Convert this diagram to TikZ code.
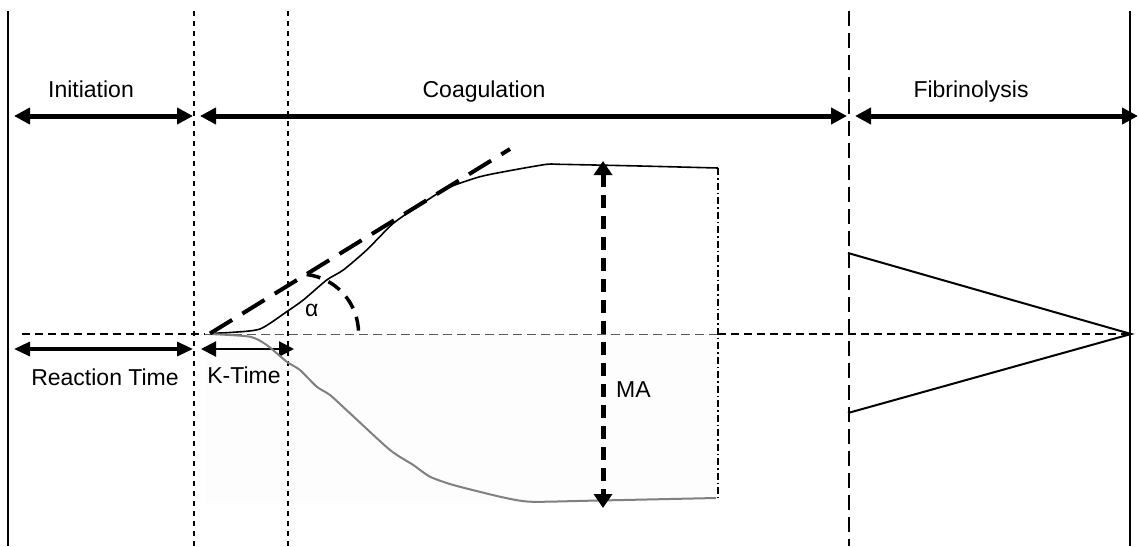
\documentclass[tikz,border=0pt]{standalone}
\usepackage{fontspec}
\setmainfont{Liberation Sans}
\usetikzlibrary{arrows.meta}
\begin{document}
\begin{tikzpicture}[x=1pt,y=-1pt,
  lbl/.style={font=\fontsize{23}{27}\selectfont, anchor=base, inner sep=0pt},
  bigtip/.style={{Triangle[length=16pt,width=16pt]}-{Triangle[length=16pt,width=16pt]}},
  phase/.style={line width=5pt, bigtip},
  solidv/.style={line width=2pt},
  shortdash/.style={line width=2pt, dash pattern=on 5pt off 5pt},
  longdash/.style={line width=2pt, dash pattern=on 15pt off 7pt},
  basethick/.style={line width=1.6pt, dash pattern=on 8pt off 5pt},
  basethin/.style={line width=1pt, black!65, dash pattern=on 9pt off 5pt},
  tangent/.style={line width=4pt, dash pattern=on 26pt off 12pt},
  arcdash/.style={line width=3.5pt, dash pattern=on 14pt off 9pt},
  madash/.style={line width=5pt, dash pattern=on 13pt off 8pt,
    {Triangle[length=14pt,width=18pt]}-{Triangle[length=14pt,width=18pt]}},
  rtarrow/.style={line width=3.2pt, {Triangle[length=16pt,width=14pt]}-{Triangle[length=16pt,width=14pt]}},
  ktarrow/.style={line width=2.2pt, {Triangle[length=15pt,width=15pt]}-{Triangle[length=15pt,width=15pt]}},
  upper/.style={line width=1.6pt, black},
  lower/.style={line width=2pt, black!50},
  dashdot/.style={line width=1.4pt, dash pattern=on 7pt off 3pt on 1.5pt off 3pt},
  fib/.style={line width=2pt}
]
\useasboundingbox (0,0) rectangle (1139,546);

% faint shaded region
\fill[black!0.6] (205,334) rectangle (718,503);

% vertical lines
\coordinate (v1t) at (7.5,11);   \coordinate (v1b) at (7.5,546);
\coordinate (v2t) at (194,11);   \coordinate (v2b) at (194,546);
\coordinate (v3t) at (288,11);   \coordinate (v3b) at (288,546);
\coordinate (v4t) at (849,11);   \coordinate (v4b) at (849,546);
\coordinate (v5t) at (1130,11);  \coordinate (v5b) at (1130,546);
\draw[solidv] (v1t) -- (v1b);
\draw[shortdash] (v2t) -- (v2b);
\draw[shortdash] (v3t) -- (v3b);
\draw[longdash] (v4t) -- (v4b);
\draw[solidv] (v5t) -- (v5b);

% baseline
\coordinate (b0) at (22,334);
\coordinate (b1) at (205,334);
\coordinate (b2) at (718,334);
\coordinate (b3) at (1130,334);
\draw[basethick] (b0) -- (b1);
\draw[basethin] (b1) -- (b2);
\draw[basethick] (b2) -- (b3);

% phase arrows
\coordinate (i0) at (14,116);  \coordinate (i1) at (193,116);
\coordinate (c0) at (200,116); \coordinate (c1) at (847,116);
\coordinate (f0) at (855,116); \coordinate (f1) at (1138,116);
\draw[phase] (i0) -- (i1);
\draw[phase] (c0) -- (c1);
\draw[phase] (f0) -- (f1);
\node[lbl] (tInit) at (91,97) {Initiation};
\node[lbl] (tCoag) at (484,97) {Coagulation};
\node[lbl] (tFib) at (971,97) {Fibrinolysis};

% reaction time and K-time
\coordinate (r0) at (14,349);  \coordinate (r1) at (193,349);
\coordinate (k0) at (201,349); \coordinate (k1) at (294,349);
\draw[rtarrow] (r0) -- (r1);
\draw[ktarrow] (k0) -- (k1);
\node[lbl] (tRT) at (105,385) {Reaction Time};
\node[lbl] (tKT) at (244,383) {K-Time};

% curves
\coordinate (start) at (210,333.5);
\draw[upper] plot[smooth, tension=0.4] coordinates {(210,333.3) (230,332.5) (260,329) (286.7,311.7) (303.3,300) (326.7,280) (343.3,270) (366.7,250) (393.3,223.3) (420,205) (446.7,188.3) (480,176.7) (513.3,170) (546.7,164.3) (560,164.3) (640,166) (718,168)};
\draw[lower] plot[smooth, tension=0.4] coordinates {(210,334) (250,336.7) (266.7,345) (286.7,361.7) (300,370) (316.7,386.7) (330,395) (350,413.3) (390,450) (413.3,465) (430,476.7) (453.3,485) (500,496.7) (530,501.7) (590,500.7) (716,498)};

% right dash-dot boundary
\coordinate (dd0) at (718,168); \coordinate (dd1) at (718,498);
\draw[dashdot] (dd0) -- (dd1);

% tangent line and angle
\coordinate (tan1) at (510,149);
\draw[tangent] (start) -- (tan1);
\coordinate (arcs) at (306.7,274.5);
\draw[arcdash] (arcs) arc[start angle=83, end angle=0, radius=59pt];
\node[lbl] (tAlpha) at (311.7,316.7) {α};

% MA arrow
\coordinate (ma0) at (603,161); \coordinate (ma1) at (603,508);
\draw[madash] (ma0) -- (ma1);
\node[lbl, anchor=base west] (tMA) at (616,397) {MA};

% fibrinolysis triangle
\coordinate (ft) at (848,253);
\coordinate (fb) at (848,413);
\coordinate (fp) at (1131,334);
\draw[fib] (ft) -- (fp) -- (fb);
\end{tikzpicture}
\end{document}
